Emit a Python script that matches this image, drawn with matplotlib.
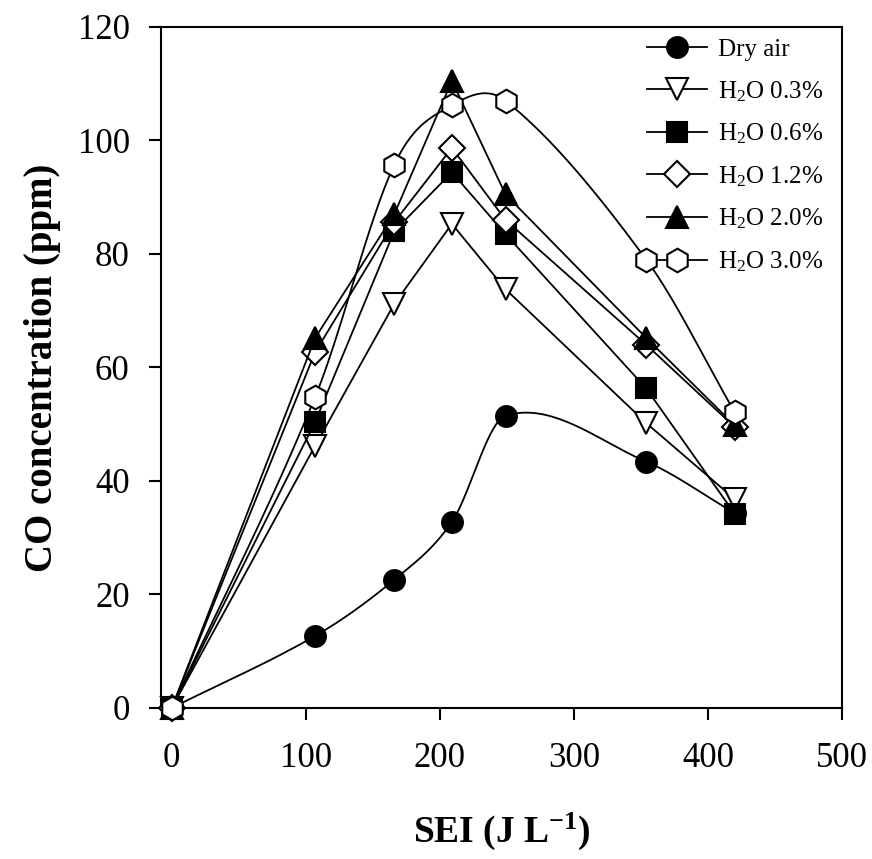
import numpy as np
import matplotlib
matplotlib.use("Agg")
import matplotlib.pyplot as plt
from matplotlib.lines import Line2D

plt.rcParams['font.family'] = 'Liberation Serif'
plt.rcParams['mathtext.default'] = 'regular'

# SEI (J/L) and CO (ppm)
sei = [0, 107, 166, 209, 249, 354, 420]
labels = ['Dry air', 'H$_2$O 0.3%', 'H$_2$O 0.6%', 'H$_2$O 1.2%', 'H$_2$O 2.0%', 'H$_2$O 3.0%']
dry_air = [0, 12.7, 22.6, 32.8, 51.5, 43.4, 34.3]
h2o_03 = [0, 46.2, 71.2, 85.3, 73.8, 50.2, 36.8]
h2o_06 = [0, 50.4, 84.0, 94.4, 83.5, 56.3, 34.2]
h2o_12 = [0, 62.7, 85.6, 98.7, 86.0, 64.0, 49.5]
h2o_20 = [0, 65.2, 87.0, 110.5, 90.5, 65.2, 49.8]
h2o_30 = [0, 54.8, 95.7, 106.2, 107.0, 79.0, 52.1]

series = [dry_air, h2o_03, h2o_06, h2o_12, h2o_20, h2o_30]
markers = ['o', 'v', 's', 'D', '^', 'h']
fills = ['k', 'w', 'k', 'w', 'k', 'w']
msizes = [15, 16, 14, 13.5, 16, 17]
smooth = [True, False, False, False, False, True]


def cardinal(x, y, n=40):
    # hermite spline with finite-difference tangents
    x = np.asarray(x, float)
    y = np.asarray(y, float)
    m = np.zeros_like(y)
    m[1:-1] = (y[2:] - y[:-2]) / (x[2:] - x[:-2])
    m[0] = (y[1] - y[0]) / (x[1] - x[0])
    m[-1] = (y[-1] - y[-2]) / (x[-1] - x[-2])
    xs, ys = [], []
    for i in range(len(x) - 1):
        h = x[i + 1] - x[i]
        t = np.linspace(0, 1, n)
        h00 = 2 * t**3 - 3 * t**2 + 1
        h10 = t**3 - 2 * t**2 + t
        h01 = -2 * t**3 + 3 * t**2
        h11 = t**3 - t**2
        xs.append(x[i] + t * h)
        ys.append(h00 * y[i] + h10 * h * m[i] + h01 * y[i + 1] + h11 * h * m[i + 1])
    return np.concatenate(xs), np.concatenate(ys)


fig = plt.figure(figsize=(8.72, 8.59), dpi=100)
ax = fig.add_axes([0.1846, 0.1758, 0.781, 0.7928])

handles = []
for i, yv in enumerate(series):
    if smooth[i]:
        cx, cy = cardinal(sei, yv)
    else:
        cx, cy = sei, yv
    ax.plot(cx, cy, color='k', lw=1.3, zorder=2 + i, clip_on=False)
    ax.plot(sei, yv, ls='none', marker=markers[i], ms=msizes[i], mfc=fills[i],
            mec='k', mew=1.5, zorder=2 + i, clip_on=False)
    handles.append(Line2D([], [], color='k', lw=1.3, marker=markers[i], ms=msizes[i],
                          mfc=fills[i], mec='k', mew=1.5))

ax.set_xlim(-8, 500)
ax.set_ylim(0, 120)
ax.set_xticks([0, 100, 200, 300, 400, 500])
ax.set_yticks([0, 20, 40, 60, 80, 100, 120])
ax.tick_params(direction='out', length=8.5, width=1.5, labelsize=25)
ax.tick_params(axis='x', pad=16)
ax.tick_params(axis='y', pad=14)
for s in ax.spines.values():
    s.set_linewidth(1.5)

ax.set_xlabel('SEI (J L$^{-1}$)', fontsize=27, fontweight='bold', labelpad=26)
ax.set_ylabel('CO concentration (ppm)', fontsize=28, fontweight='bold', labelpad=12)

ax.legend(handles, labels, loc='upper left', bbox_to_anchor=(0.714, 0.983),
          frameon=False, fontsize=18, handlelength=2.4, handletextpad=0.45,
          labelspacing=0.72, borderpad=0, borderaxespad=0)

fig.savefig('out.png', dpi=100)
